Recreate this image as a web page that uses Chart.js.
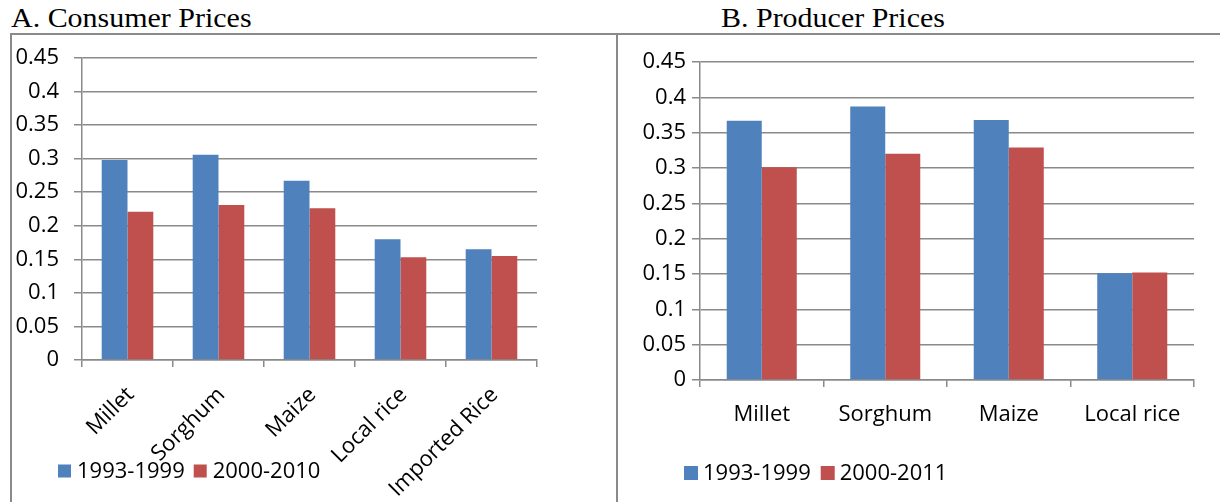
<!DOCTYPE html>
<html><head><meta charset="utf-8">
<script src="https://cdn.jsdelivr.net/npm/chart.js@4/dist/chart.umd.min.js"></script>
<style>
html,body{margin:0;padding:0;background:#fff;}
body{width:1220px;height:502px;position:relative;overflow:hidden;}
.title{position:absolute;top:5px;font-family:"Liberation Serif","Times New Roman",serif;font-size:27px;line-height:27px;color:#000;transform:scaleX(1.11);transform-origin:0 0;white-space:nowrap;}
.line{position:absolute;background:#8a8a8a;}
canvas{position:absolute;top:0;}
</style></head><body>
<div class="title" style="left:11px">A. Consumer Prices</div>
<div class="title" style="left:721px">B. Producer Prices</div>
<canvas id="cA" width="616" height="502" style="left:0"></canvas>
<canvas id="cB" width="602" height="502" style="left:618px"></canvas>
<div class="line" style="left:10px;top:33px;width:1210px;height:2px"></div>
<div class="line" style="left:10px;top:33px;width:2px;height:469px"></div>
<div class="line" style="left:616px;top:33px;width:2px;height:469px"></div>
<script>
// ---- data ----
const consumerCategories = ["Millet", "Sorghum", "Maize", "Local rice", "Imported Rice"];
const consumer1993_1999 = [0.298, 0.306, 0.267, 0.180, 0.165];
const consumer2000_2010 = [0.221, 0.231, 0.226, 0.153, 0.155];
const consumerSeriesNames = ["1993-1999", "2000-2010"];

const producerCategories = ["Millet", "Sorghum", "Maize", "Local rice"];
const producer1993_1999 = [0.367, 0.387, 0.368, 0.151];
const producer2000_2011 = [0.301, 0.320, 0.329, 0.152];
const producerSeriesNames = ["1993-1999", "2000-2011"];

const yTickLabels = ["0", "0.05", "0.1", "0.15", "0.2", "0.25", "0.3", "0.35", "0.4", "0.45"];

const BLUE = "#4F81BD", RED = "#C0504D", GRID = "#8a8a8a";
const FONT = "'Open Sans', 'DejaVu Sans', sans-serif";
const FSIZE = 22;

function legendPlugin(cfg) {
  return {
    id: "customLegend",
    afterDraw(chart) {
      const ctx = chart.ctx;
      ctx.save();
      ctx.font = FSIZE + "px " + FONT;
      ctx.textBaseline = "middle";
      ctx.fillStyle = "#000";
      let x = cfg.x;
      chart.data.datasets.forEach((ds) => {
        ctx.fillStyle = ds.backgroundColor;
        ctx.fillRect(x, cfg.y - cfg.box / 2, cfg.box, cfg.box);
        x += cfg.box + cfg.gap;
        ctx.fillStyle = "#000";
        ctx.fillText(ds.label, x, cfg.y + 1);
        x += ctx.measureText(ds.label).width + cfg.spacing;
      });
      ctx.restore();
    }
  };
}

function makeChart(id, cats, s1, s2, names, opt) {
  return new Chart(document.getElementById(id), {
    type: "bar",
    data: {
      labels: cats,
      datasets: [
        { label: names[0], data: s1, backgroundColor: BLUE, borderWidth: 0 },
        { label: names[1], data: s2, backgroundColor: RED, borderWidth: 0 }
      ]
    },
    options: {
      responsive: false,
      animation: false,
      events: [],
      categoryPercentage: 0.567,
      barPercentage: 1.0,
      layout: { padding: { left: 0, right: opt.padRight, top: opt.padTop, bottom: 0 } },
      plugins: { legend: { display: false }, tooltip: { enabled: false } },
      scales: {
        x: {
          grid: { display: true, drawOnChartArea: false, drawTicks: true, tickLength: 7, color: GRID, lineWidth: 1.5, offset: true },
          border: { display: true, color: GRID, width: 1.5 },
          ticks: {
            color: "#000", font: { family: FONT, size: FSIZE },
            autoSkip: false, minRotation: opt.rot, maxRotation: opt.rot, padding: opt.xPad, labelOffset: opt.xOff
          },
          afterFit(scale) { scale.height = opt.xHeight; }
        },
        y: {
          min: 0, max: 0.45,
          grid: { color: GRID, lineWidth: 1.5, drawTicks: true, tickLength: opt.yTickLen },
          border: { display: true, color: GRID, width: 1.5 },
          ticks: {
            stepSize: 0.05, color: "#000", font: { family: FONT, size: FSIZE }, padding: opt.yPad,
            callback: (v, i) => yTickLabels[i]
          },
          afterFit(scale) { scale.width = opt.yWidth; }
        }
      }
    },
    plugins: [legendPlugin(opt.legend)]
  });
}

makeChart("cA", consumerCategories, consumer1993_1999, consumer2000_2010, consumerSeriesNames, {
  padRight: 79, padTop: 58, xHeight: 142, yWidth: 82, yTickLen: 8, yPad: 15, rot: 45, xPad: 15, xOff: 3,
  legend: { x: 58, y: 471, box: 13, gap: 6, spacing: 9 }
});
makeChart("cB", producerCategories, producer1993_1999, producer2000_2011, producerSeriesNames, {
  padRight: 26, padTop: 62, xHeight: 122, yWidth: 82, yTickLen: 8, yPad: 6, rot: 0, xPad: 15, xOff: 0,
  legend: { x: 66, y: 473, box: 14, gap: 5, spacing: 10 }
});
</script>
</body></html>
